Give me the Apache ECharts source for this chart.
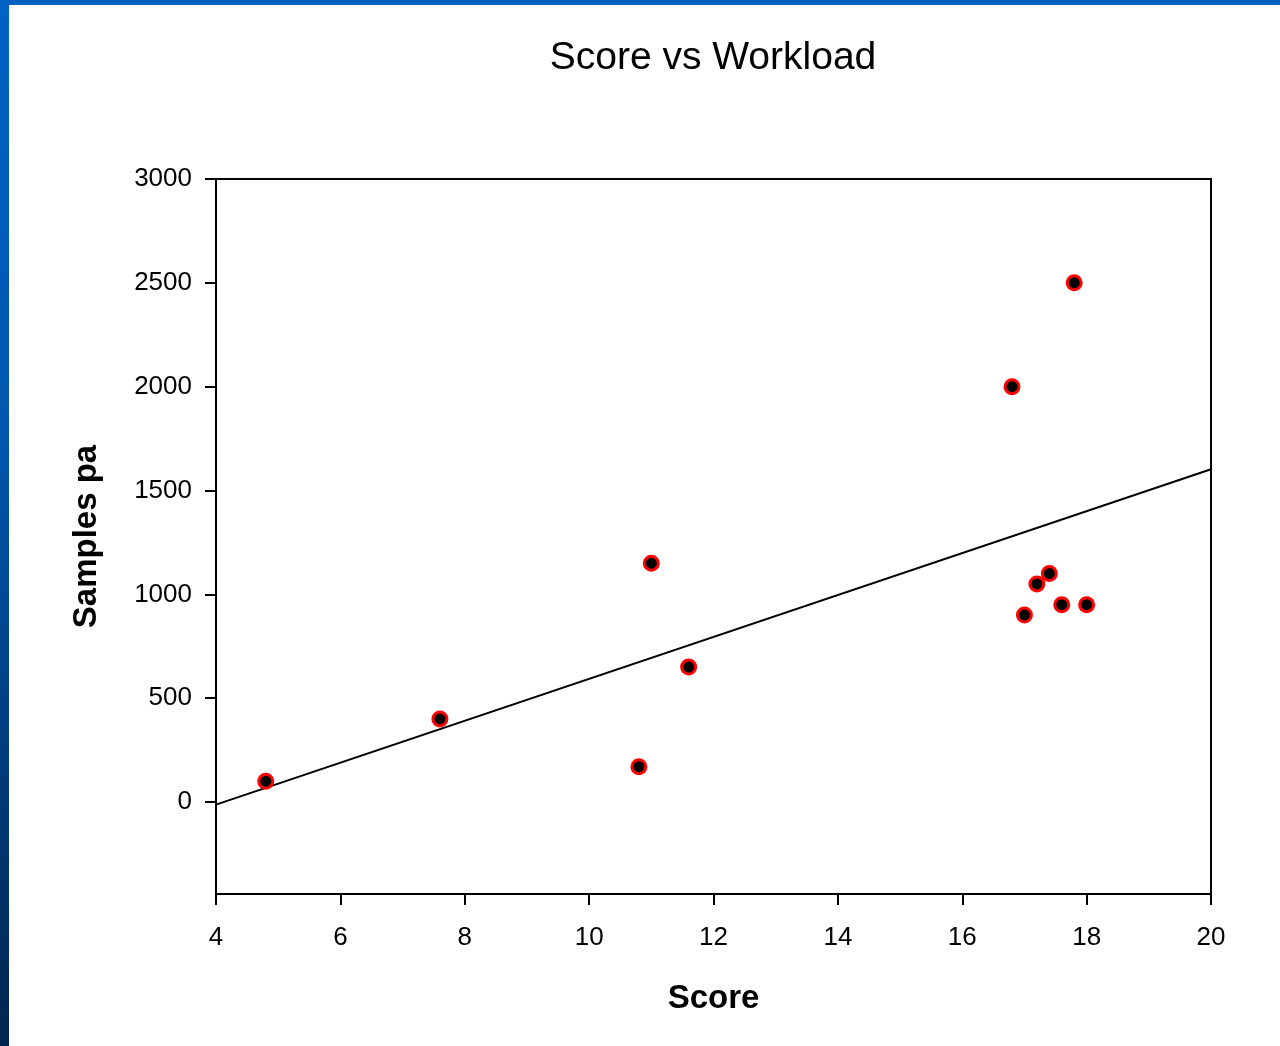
<!DOCTYPE html>
<html>
<head>
<meta charset="utf-8">
<title>Score vs Workload</title>
<script src="https://cdn.jsdelivr.net/npm/echarts@6/dist/echarts.min.js"></script>
<style>
  html, body { margin: 0; padding: 0; width: 1280px; height: 1046px; overflow: hidden; }
  body { background: linear-gradient(to bottom, #0062c2 0%, #0058b0 40%, #003a78 75%, #00264e 100%); position: relative; }
  #chart { position: absolute; left: 9px; top: 5px; width: 1271px; height: 1041px; background: #ffffff; }
</style>
</head>
<body>
<div id="chart"></div>
<script>
// Score against samples per annum, one point per site
const scores  = [4.8, 7.6, 10.8, 11.0, 11.6, 16.8, 17.8, 17.0, 17.2, 17.4, 17.6, 18.0];
const samples = [100, 400, 170, 1150, 650, 2000, 2500, 900, 1050, 1100, 950, 950];

const xTicks = [4, 6, 8, 10, 12, 14, 16, 18, 20];
const yTicks = [0, 500, 1000, 1500, 2000, 2500, 3000];

// Least-squares fit of samples on score, drawn across the x range
function linearFit(xs, ys) {
  const n = xs.length;
  const mx = xs.reduce((a, b) => a + b, 0) / n;
  const my = ys.reduce((a, b) => a + b, 0) / n;
  let sxy = 0, sxx = 0;
  for (let i = 0; i < n; i++) {
    sxy += (xs[i] - mx) * (ys[i] - my);
    sxx += (xs[i] - mx) * (xs[i] - mx);
  }
  const slope = sxy / sxx;
  return { slope: slope, intercept: my - slope * mx };
}
const fit = linearFit(scores, samples);
const xMin = xTicks[0], xMax = xTicks[xTicks.length - 1];
const fitLine = [
  [xMin, fit.intercept + fit.slope * xMin],
  [xMax, fit.intercept + fit.slope * xMax]
];

const points = scores.map((s, i) => [s, samples[i]]);

const FONT = '"Liberation Sans", Arial, sans-serif';

const chart = echarts.init(document.getElementById('chart'), null, { renderer: 'canvas' });
chart.setOption({
  animation: false,
  backgroundColor: '#ffffff',
  title: {
    text: 'Score vs Workload',
    left: 699,
    top: 48,
    textAlign: 'center',
    textVerticalAlign: 'middle',
    textStyle: { fontFamily: FONT, fontSize: 39, fontWeight: 'normal', color: '#000' }
  },
  grid: {
    left: 207, top: 174, width: 995, height: 715,
    show: true, borderColor: '#000', borderWidth: 2, backgroundColor: 'transparent'
  },
  xAxis: {
    type: 'value',
    min: xMin, max: xMax, interval: 2,
    name: 'Score',
    nameLocation: 'middle',
    nameGap: 88,
    nameTextStyle: { fontFamily: FONT, fontSize: 33, fontWeight: 'bold', color: '#000' },
    axisLine: { show: true, onZero: false, lineStyle: { color: '#000', width: 2 } },
    axisTick: { show: true, inside: false, length: 11, lineStyle: { color: '#000', width: 2 } },
    axisLabel: { margin: 31, fontFamily: FONT, fontSize: 26, color: '#000' },
    splitLine: { show: false }
  },
  yAxis: {
    type: 'value',
    min: -443, max: 3000,
    name: 'Samples pa',
    nameLocation: 'middle',
    nameGap: 113,
    nameRotate: 90,
    nameTextStyle: { fontFamily: FONT, fontSize: 33, fontWeight: 'bold', color: '#000' },
    axisLine: { show: true, onZero: false, lineStyle: { color: '#000', width: 2 } },
    axisTick: { show: true, inside: false, length: 11, customValues: yTicks, lineStyle: { color: '#000', width: 2 } },
    axisLabel: {
      margin: 24, customValues: yTicks, fontFamily: FONT, fontSize: 26, color: '#000',
      formatter: (v) => String(v)
    },
    splitLine: { show: false }
  },
  series: [
    {
      type: 'line',
      data: fitLine,
      symbol: 'none',
      lineStyle: { color: '#000', width: 2 },
      z: 2
    },
    {
      type: 'scatter',
      data: points,
      symbol: 'circle',
      symbolSize: 14,
      itemStyle: { color: '#000', borderColor: '#ff0000', borderWidth: 3, opacity: 1 },
      z: 3
    }
  ]
});
</script>
</body>
</html>
